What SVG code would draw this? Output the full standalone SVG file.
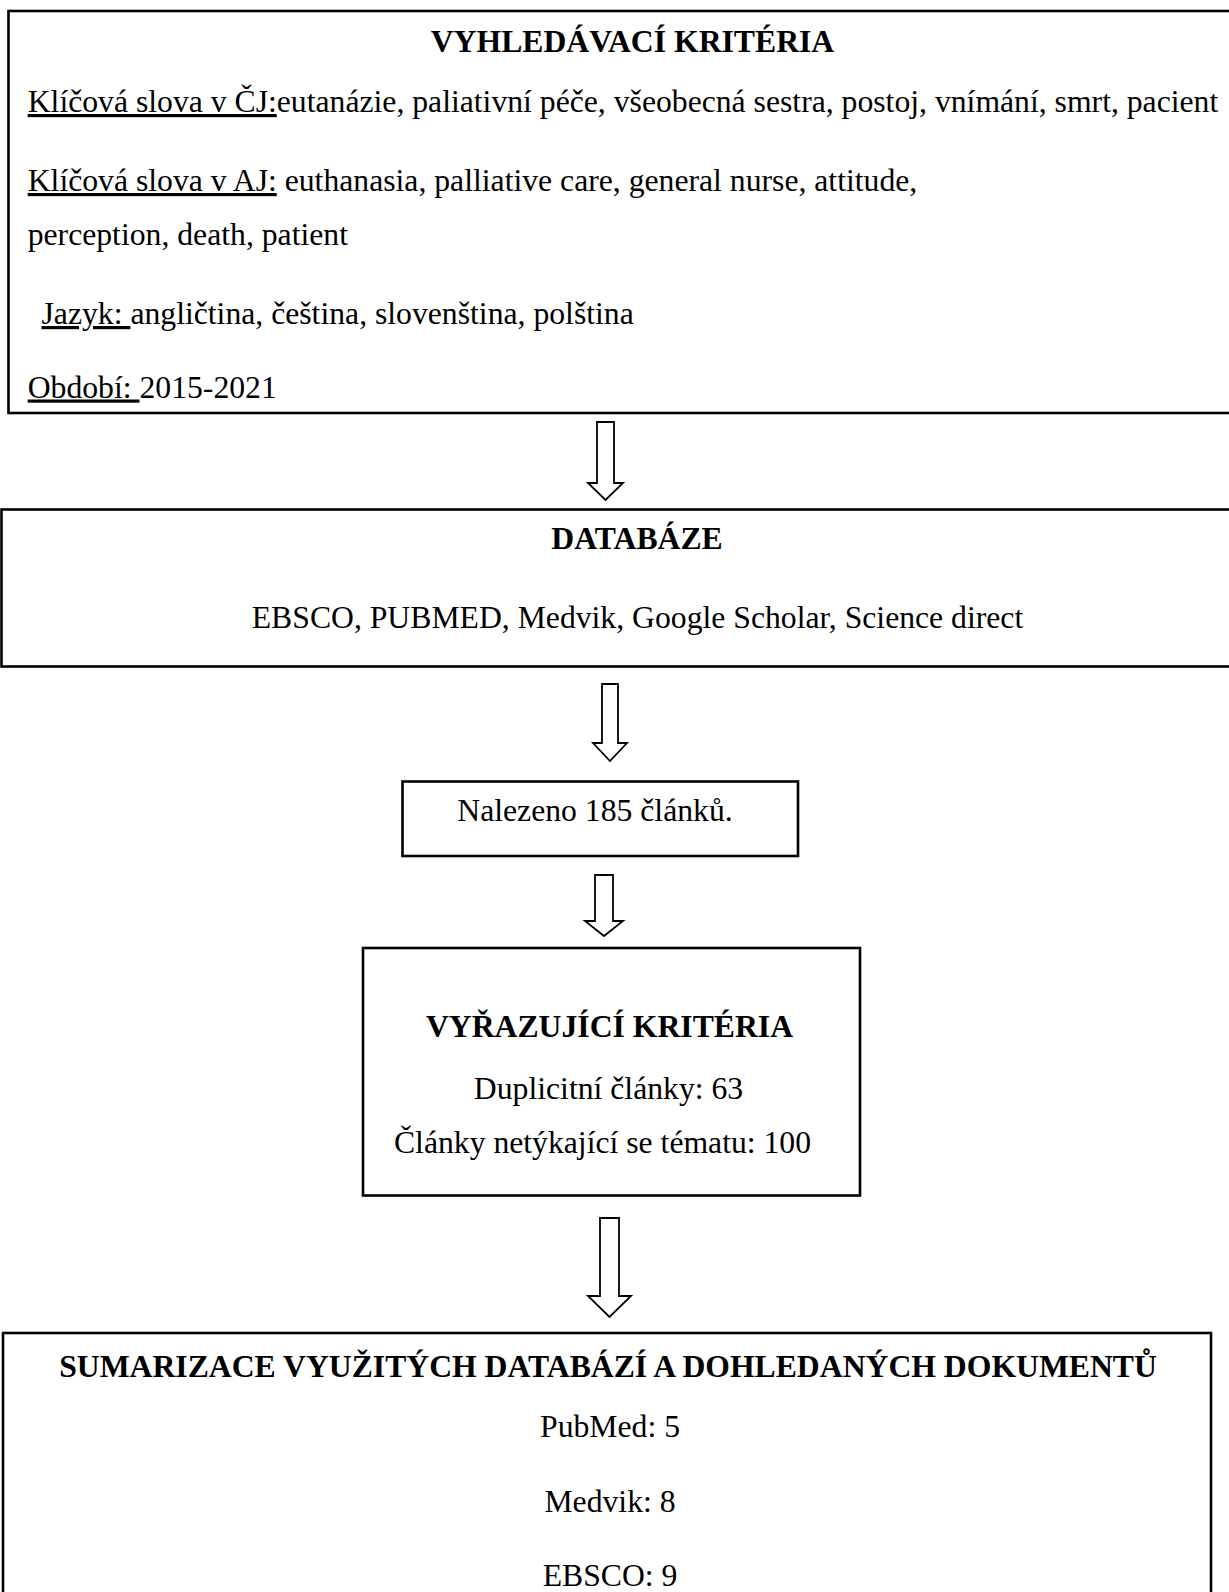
<svg xmlns="http://www.w3.org/2000/svg" width="1229" height="1592" viewBox="0 0 1229 1592">
<defs>
<style>
.box{fill:#fff;stroke:#000;stroke-width:2.6}
.arr{fill:#fff;stroke:#000;stroke-width:1.8;stroke-linejoin:miter}
text{font-family:"Liberation Serif","Times New Roman",serif;font-size:31.7px;fill:#000}
.b{font-weight:bold}
.c{text-anchor:middle}
.u{text-decoration:underline}
</style>
</defs>
<rect width="1229" height="1592" fill="#fff"/>
<g id="criteria">
<rect class="box" x="8.5" y="11" width="1240" height="402"/>
<text class="b c" x="632.5" y="51.5">VYHLEDÁVACÍ KRITÉRIA</text>
<text x="27.7" y="112"><tspan class="u">Klíčová slova v ČJ:</tspan>eutanázie, paliativní péče, všeobecná sestra, postoj, vnímání, smrt, pacient</text>
<text x="27.7" y="191"><tspan class="u">Klíčová slova v AJ:</tspan> euthanasia, palliative care, general nurse, attitude,</text>
<text x="27.7" y="244.5">perception, death, patient</text>
<text x="41.5" y="324"><tspan class="u">Jazyk: </tspan>angličtina, čeština, slovenština, polština</text>
<text x="27.7" y="397.5"><tspan class="u">Období: </tspan>2015-2021</text>
</g>
<g id="databases">
<rect class="box" x="1.5" y="509.5" width="1240" height="157"/>
<text class="b c" x="637" y="549">DATABÁZE</text>
<text class="c" x="637.5" y="627.5">EBSCO, PUBMED, Medvik, Google Scholar, Science direct</text>
</g>
<g id="found">
<rect class="box" x="402.5" y="781.5" width="395.5" height="74.5"/>
<text class="c" x="595" y="821">Nalezeno 185 článků.</text>
</g>
<g id="exclusion">
<rect class="box" x="363" y="948" width="497" height="247.5"/>
<text class="b c" x="609.5" y="1037">VYŘAZUJÍCÍ KRITÉRIA</text>
<text class="c" x="608.5" y="1098.5">Duplicitní články: 63</text>
<text class="c" x="602.5" y="1153">Články netýkající se tématu: 100</text>
</g>
<g id="summary">
<rect class="box" x="3" y="1333" width="1208" height="300"/>
<text class="b c" x="608" y="1377">SUMARIZACE VYUŽITÝCH DATABÁZÍ A DOHLEDANÝCH DOKUMENTŮ</text>
<text class="c" x="610" y="1437">PubMed: 5</text>
<text class="c" x="610" y="1512">Medvik: 8</text>
<text class="c" x="610" y="1586">EBSCO: 9</text>
</g>
<g id="connectors">
<path class="arr" d="M597,422 H614 V483 H623 L605.5,500 L588,483 H597 Z"/>
<path class="arr" d="M602,684 H618 V743 H627 L610,761 L593,743 H602 Z"/>
<path class="arr" d="M595,875 H613 V921 H623 L604,936 L585,921 H595 Z"/>
<path class="arr" d="M600,1218 H619 V1296 H631 L609.5,1317 L588,1296 H600 Z"/>
</g>
</svg>
